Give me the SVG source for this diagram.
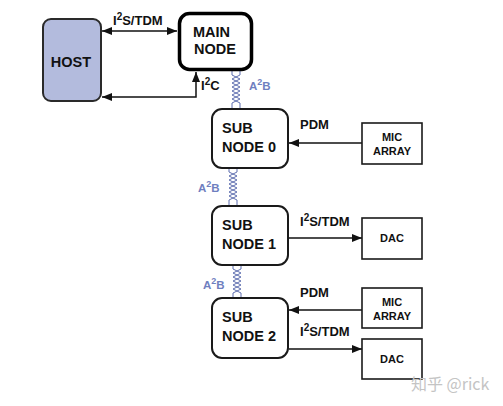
<svg xmlns="http://www.w3.org/2000/svg" width="503" height="406" viewBox="0 0 503 406">
<defs>
<style>
.node{fill:#fff;stroke:#1a1a1a;stroke-width:2}
.main{fill:#fff;stroke:#000;stroke-width:3.5}
.host{fill:#b3bbdd;stroke:#2a2a2a;stroke-width:2}
.box{fill:#fff;stroke:#1a1a1a;stroke-width:1.6}
.big{font-family:"Liberation Sans",Arial,sans-serif;font-weight:bold;font-size:14.5px;fill:#111}
.small{font-family:"Liberation Sans",Arial,sans-serif;font-weight:bold;font-size:11px;fill:#111}
.lbl{font-family:"Liberation Sans",Arial,sans-serif;font-weight:bold;font-size:13px;fill:#111}
.a2b{font-family:"Liberation Sans",Arial,sans-serif;font-weight:bold;font-size:11.5px;fill:#6f7fbf}
.conn{fill:none;stroke:#111;stroke-width:1.5}
.tp{fill:none;stroke:#5f6fb0;stroke-width:1}
.wm{font-family:"Noto Sans CJK SC","Noto Sans",sans-serif;font-size:16px;fill:#c4c4c4}
</style>
<marker id="arr" markerUnits="userSpaceOnUse" markerWidth="10" markerHeight="8" refX="10" refY="4" orient="auto-start-reverse">
<path d="M0,0 L10,4 L0,8 z" fill="#111"/>
</marker>
</defs>
<rect width="503" height="406" fill="#fff"/>

<g id="connectors">
<line class="conn" x1="102" y1="31" x2="177" y2="31" marker-start="url(#arr)" marker-end="url(#arr)"/>
<path class="conn" d="M102,97 H196 V72" marker-start="url(#arr)" marker-end="url(#arr)"/>
<line class="conn" x1="362" y1="143" x2="289" y2="143" marker-end="url(#arr)"/>
<line class="conn" x1="289" y1="238" x2="362" y2="238" marker-end="url(#arr)"/>
<line class="conn" x1="362" y1="310" x2="289" y2="310" marker-end="url(#arr)"/>
<line class="conn" x1="289" y1="349" x2="362" y2="349" marker-end="url(#arr)"/>
<g id="a2b-links">
<path class="tp" d="M232,71 V75 L240,79 L232,83 L240,87 L232,91 L240,95 L232,99 L240,103 V109"/>
<path class="tp" d="M240,71 V75 L232,79 L240,83 L232,87 L240,91 L232,95 L240,99 L232,103 V109"/>
<path class="tp" d="M229,168 V172 L237,176 L229,180 L237,184 L229,188 L237,192 L229,196 L237,200 V206"/>
<path class="tp" d="M237,168 V172 L229,176 L237,180 L229,184 L237,188 L229,192 L237,196 L229,200 V206"/>
<path class="tp" d="M233,265 V269 L241,273 L233,277 L241,281 L233,285 L241,289 L233,293 V298"/>
<path class="tp" d="M241,265 V269 L233,273 L241,277 L233,281 L241,285 L233,289 L241,293 V298"/>
</g>
<text class="lbl" x="113" y="25">I<tspan font-size="10" dy="-5">2</tspan><tspan dy="5">S/TDM</tspan></text>
<text class="lbl" x="201" y="90">I<tspan font-size="10" dy="-5">2</tspan><tspan dy="5">C</tspan></text>
<text class="a2b" x="249" y="90">A<tspan font-size="9" dy="-5">2</tspan><tspan dy="5">B</tspan></text>
<text class="a2b" x="198" y="192">A<tspan font-size="9" dy="-5">2</tspan><tspan dy="5">B</tspan></text>
<text class="a2b" x="203" y="289">A<tspan font-size="9" dy="-5">2</tspan><tspan dy="5">B</tspan></text>
<text class="lbl" x="300" y="129">PDM</text>
<text class="lbl" x="300" y="226">I<tspan font-size="10" dy="-5">2</tspan><tspan dy="5">S/TDM</tspan></text>
<text class="lbl" x="300" y="297">PDM</text>
<text class="lbl" x="300" y="336">I<tspan font-size="10" dy="-5">2</tspan><tspan dy="5">S/TDM</tspan></text>
</g>

<g id="host">
<rect class="host" x="43" y="19" width="58" height="82" rx="8"/>
<text class="big" x="71" y="67" text-anchor="middle">HOST</text>
</g>
<g id="main-node">
<rect class="main" x="179.5" y="13.5" width="72" height="56" rx="10"/>
<text class="big" x="193" y="37">MAIN</text>
<text class="big" x="194" y="54">NODE</text>
</g>
<g id="sub-node-0">
<rect class="node" x="212" y="109" width="76" height="59" rx="10"/>
<text class="big" x="222" y="133">SUB</text>
<text class="big" x="222" y="152">NODE 0</text>
</g>
<g id="sub-node-1">
<rect class="node" x="212" y="206" width="76" height="59" rx="10"/>
<text class="big" x="222" y="230">SUB</text>
<text class="big" x="222" y="249">NODE 1</text>
</g>
<g id="sub-node-2">
<rect class="node" x="212" y="298" width="76" height="60" rx="10"/>
<text class="big" x="222" y="322">SUB</text>
<text class="big" x="222" y="341">NODE 2</text>
</g>
<g id="mic-array-0">
<rect class="box" x="362" y="123" width="60" height="41"/>
<text class="small" x="392" y="141" text-anchor="middle">MIC</text>
<text class="small" x="392" y="155" text-anchor="middle">ARRAY</text>
</g>
<g id="dac-1">
<rect class="box" x="362" y="218" width="60" height="41"/>
<text class="small" x="392" y="242" text-anchor="middle">DAC</text>
</g>
<g id="mic-array-2">
<rect class="box" x="362" y="288" width="60" height="40"/>
<text class="small" x="392" y="306" text-anchor="middle">MIC</text>
<text class="small" x="392" y="320" text-anchor="middle">ARRAY</text>
</g>
<g id="dac-2">
<rect class="box" x="362" y="339" width="60" height="40"/>
<text class="small" x="392" y="363" text-anchor="middle">DAC</text>
</g>
<text class="wm" x="411" y="390">知乎 @rick</text>
</svg>
